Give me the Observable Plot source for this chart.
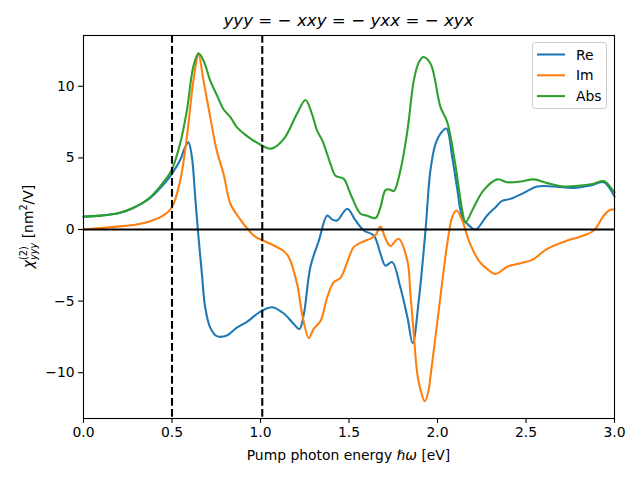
<!DOCTYPE html>
<html><head><meta charset="utf-8">
<script src="https://cdn.jsdelivr.net/npm/d3@7"></script>
<script src="https://cdn.jsdelivr.net/npm/@observablehq/plot@0.6"></script>
<style>body{margin:0;background:#fff} svg{font-family:"DejaVu Sans",sans-serif}</style>
</head><body><div id="chart"></div><script>
const reE=[0,0.1,0.2,0.28,0.377,0.47,0.5,0.546,0.574,0.593,0.612,0.631,0.646,0.669,0.687,0.716,0.753,0.81,0.866,0.923,0.97,1.01,1.066,1.13,1.188,1.22,1.245,1.282,1.33,1.377,1.405,1.433,1.49,1.537,1.584,1.64,1.678,1.706,1.744,1.79,1.83,1.86,1.894,1.932,1.96,1.989,2.017,2.05,2.083,2.11,2.14,2.168,2.215,2.28,2.328,2.365,2.412,2.488,2.563,2.657,2.77,2.864,2.94,2.996,3.0];
const reV=[0.9,0.97,1.15,1.5,2.2,3.4,3.9,4.85,5.75,6.1,5.1,2.3,0.0,-3.1,-5.4,-6.85,-7.45,-7.4,-6.85,-6.45,-6.0,-5.66,-5.43,-5.85,-6.6,-6.95,-5.9,-2.6,-0.77,0.98,0.7,0.63,1.45,0.63,-0.07,-0.42,-1.7,-2.52,-2.28,-4.03,-6.13,-7.95,-4.97,-0.1,4.13,6.0,6.7,7.05,5.06,2.96,0.86,0.4,0.0,0.98,1.56,2.0,2.14,2.56,3.0,3.0,2.9,3.07,3.3,2.4,2.3];
const imE=[0,0.19,0.3,0.377,0.452,0.5,0.546,0.584,0.621,0.65,0.678,0.716,0.753,0.791,0.83,0.88,0.93,0.97,1.01,1.073,1.13,1.16,1.207,1.235,1.273,1.3,1.34,1.377,1.414,1.452,1.49,1.527,1.584,1.62,1.65,1.678,1.705,1.734,1.78,1.83,1.847,1.866,1.885,1.904,1.928,1.95,1.96,2.007,2.055,2.083,2.107,2.14,2.177,2.233,2.28,2.328,2.394,2.47,2.535,2.62,2.733,2.81,2.883,2.94,2.977,3.0];
const imV=[0.0,0.2,0.35,0.58,0.98,1.56,3.4,6.45,10.4,12.2,10.4,7.85,5.5,3.9,1.8,0.8,0.0,-0.5,-0.75,-1.1,-1.5,-1.93,-3.8,-5.9,-7.58,-6.95,-6.37,-4.73,-3.68,-3.38,-2.28,-1.23,-0.82,-0.65,-0.4,0.2,-0.6,-1.15,-0.65,-2.2,-4.5,-7.3,-10.0,-11.2,-12.0,-11.2,-10.3,-5.66,-1.0,0.86,1.33,0.63,-0.77,-2.17,-2.75,-3.1,-2.6,-2.35,-2.12,-1.35,-0.77,-0.49,-0.07,0.98,1.38,1.4];
const absE=[0,0.1,0.2,0.28,0.377,0.47,0.5,0.546,0.584,0.621,0.65,0.678,0.716,0.753,0.791,0.83,0.866,0.906,0.95,1.01,1.06,1.13,1.207,1.254,1.29,1.32,1.35,1.395,1.424,1.47,1.508,1.565,1.6,1.65,1.678,1.706,1.73,1.753,1.79,1.83,1.866,1.892,1.919,1.96,2.017,2.055,2.1,2.14,2.158,2.205,2.26,2.337,2.394,2.47,2.544,2.62,2.713,2.81,2.883,2.94,2.987,3.0];
const absV=[0.9,0.97,1.15,1.5,2.25,3.6,4.2,6.0,8.3,11.4,12.3,11.8,10.4,9.4,8.4,7.85,7.15,6.7,6.3,5.85,5.65,6.3,8.1,9.05,8.1,6.9,6.2,4.6,3.75,3.55,2.5,1.1,0.98,0.8,1.56,2.75,2.8,2.68,4.1,6.9,10.4,11.6,12.05,11.6,8.55,7.5,4.6,1.33,0.5,1.56,2.73,3.5,3.3,3.35,3.5,3.24,3.0,3.07,3.2,3.38,2.8,2.6];
const seriesNames=["Re","Im","Abs"];
const seriesColors=["#1f77b4","#ff7f0e","#2ca02c"];
const xTicks=[0,0.5,1,1.5,2,2.5,3];
const yTicks=[-10,-5,0,5,10];
const vLines=[0.5,1.01];

const rows=(E,V)=>E.map((e,i)=>({e,v:V[i]}));
const sets=[rows(reE,reV),rows(imE,imV),rows(absE,absV)];

const chart=Plot.plot({
  width:640,height:480,marginLeft:83,marginRight:26,marginTop:35,marginBottom:62,
  style:{fontSize:"13.9px",fontFamily:"DejaVu Sans",color:"black",background:"white"},
  x:{domain:[0,3]},
  y:{domain:[-13.2,13.55]},
  marks:[
    ...sets.map((d,i)=>Plot.line(d,{x:"e",y:"v",stroke:seriesColors[i],strokeWidth:2.08,curve:"catmull-rom"})),
    Plot.ruleY([0],{stroke:"black",strokeWidth:2.08}),
    Plot.ruleX(vLines,{stroke:"black",strokeWidth:2.08,strokeDasharray:"7.7,3.3"}),
    Plot.frame({stroke:"black",strokeWidth:1.1}),
    Plot.axisX({ticks:xTicks,tickFormat:d3.format(".1f"),tickSize:4.9,tickPadding:4,label:null,strokeWidth:1.1}),
    Plot.axisY({ticks:yTicks,tickFormat:d=>d<0?"−"+Math.abs(d):String(d),tickSize:4.9,tickPadding:4,label:null,strokeWidth:1.1})
  ]
});
document.getElementById("chart").appendChild(chart);
const svg=d3.select(chart);
// title (mathtext-like)
const t=svg.append("text").attr("x",348.5).attr("y",26).attr("text-anchor","middle").attr("font-size",16.7).attr("fill","black");
const parts=[["yyy",1],[" = − ",0],["xxy",1],[" = − ",0],["yxx",1],[" = − ",0],["xyx",1]];
parts.forEach(([s,it])=>t.append("tspan").attr("font-style",it?"italic":"normal").text(s));
// x label
const xl=svg.append("text").attr("x",348.5).attr("y",460).attr("text-anchor","middle").attr("font-size",13.9).attr("fill","black");
xl.append("tspan").text("Pump photon energy ");
xl.append("tspan").attr("font-style","italic").text("ℏω");
xl.append("tspan").text(" [eV]");
// y label
const yl=svg.append("text").attr("transform","translate(33,226.5) rotate(-90)").attr("text-anchor","middle").attr("font-size",13.9).attr("fill","black");
yl.append("tspan").attr("font-style","italic").text("χ");
yl.append("tspan").attr("font-size",9.7).attr("dy",-6).text("(2)");
yl.append("tspan").attr("font-size",9.7).attr("font-style","italic").attr("dx",-13.7).attr("dy",10).text("yyy");
yl.append("tspan").attr("dy",-4).text(" [nm");
yl.append("tspan").attr("font-size",9.7).attr("dy",-6).text("2");
yl.append("tspan").attr("dy",6).text("/V]");
// legend
const lg=svg.append("g").attr("text-anchor","start");
lg.append("rect").attr("x",532.5).attr("y",42.5).attr("width",74).attr("height",66).attr("rx",2.8).attr("fill","white").attr("fill-opacity",0.8).attr("stroke","#cccccc");
seriesNames.forEach((n,i)=>{
  const y=54.5+i*20.8;
  lg.append("line").attr("x1",537).attr("x2",565).attr("y1",y).attr("y2",y).attr("stroke",seriesColors[i]).attr("stroke-width",2.08);
  lg.append("text").attr("x",576).attr("y",y+5).attr("text-anchor","start").attr("font-size",13.9).attr("fill","black").text(n);
});
</script></body></html>
